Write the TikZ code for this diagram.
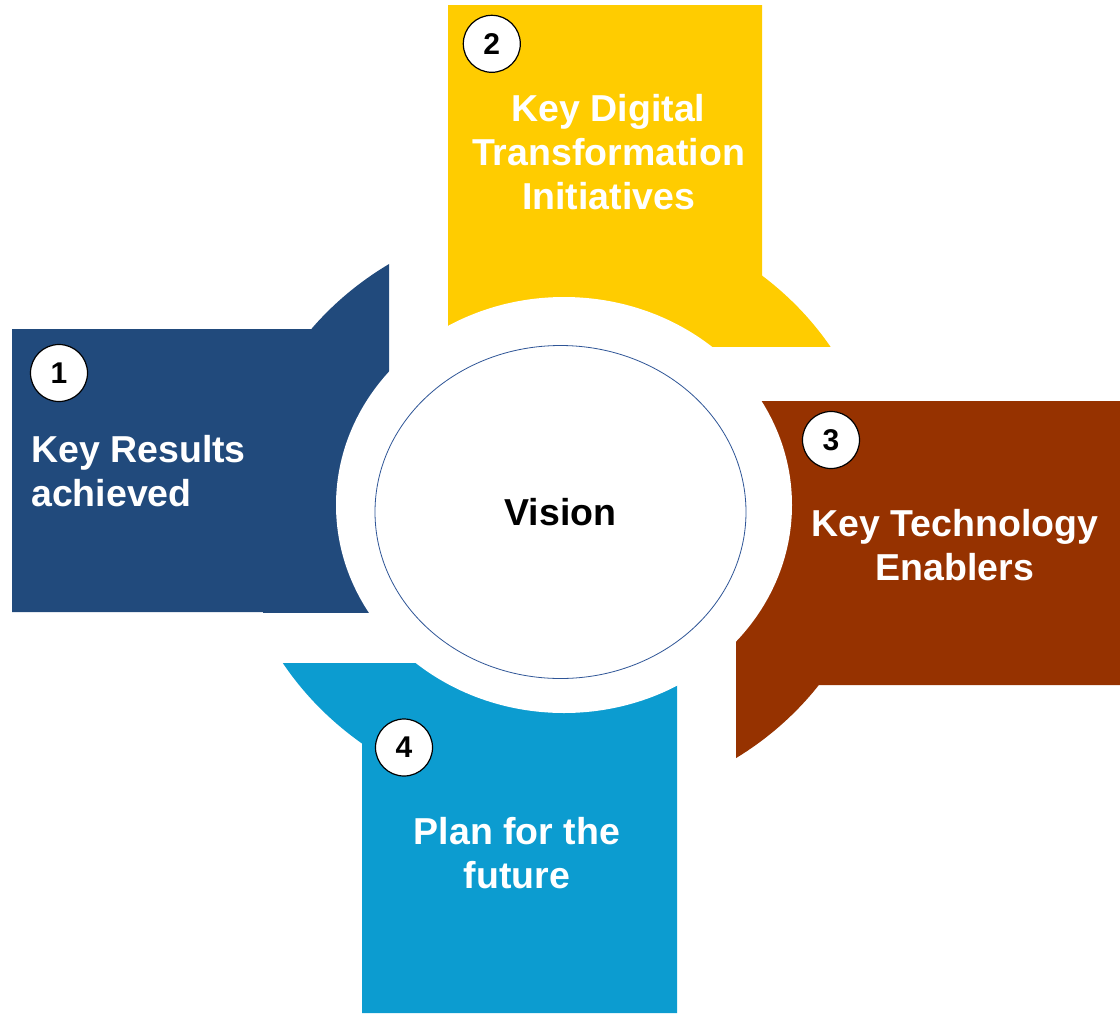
\documentclass[tikz,border=0pt]{standalone}
\usepackage{fontspec}
\setmainfont{Liberation Sans}
\usepackage{tikz}
\usetikzlibrary{shapes.geometric}
\definecolor{resultblue}{HTML}{214A7C}
\definecolor{digitalyellow}{HTML}{FFCC00}
\definecolor{techbrown}{HTML}{963200}
\definecolor{planblue}{HTML}{0C9CD0}
\definecolor{visionline}{HTML}{2F5597}

\begin{document}
\begin{tikzpicture}[
    x=1pt, y=-1pt,
    numcirc/.style={circle, draw=black, line width=1.2pt, fill=white, minimum size=57pt, inner sep=0pt, font=\fontsize{30}{30}\selectfont\bfseries},
    blocktext/.style={text=white, inner sep=0pt, font=\fontsize{37.5}{44}\selectfont\bfseries}
]
    \useasboundingbox (0,0) rectangle (1120,1013);

    % four blocks: rectangle plus a piece of the ring, one path each
    \begin{scope}
        \clip (0,0) rectangle (389,612);
        \fill[resultblue] (389,329) rectangle (12,612) (563,510) ellipse (320 and 293);
    \end{scope}
    \begin{scope}
        \clip (448,0) rectangle (1120,346);
        \fill[digitalyellow] (762,5) rectangle (448,346) (563,508) ellipse (318 and 298);
    \end{scope}
    \begin{scope}
        \clip (736,401) rectangle (1120,1013);
        \fill[techbrown] (1120,401) rectangle (736,685) (563,508) ellipse (318 and 298);
    \end{scope}
    \begin{scope}
        \clip (0,663) rectangle (677,1013);
        \fill[planblue] (677,663) rectangle (362,1013) (563,508) ellipse (328 and 298);
    \end{scope}

    % hole in the middle
    \fill[white] (564,505) ellipse (228 and 208);

    \node[ellipse, draw=visionline, line width=0.8pt, minimum width=371pt, minimum height=333pt, inner sep=0pt,
          font=\fontsize{37.5}{44}\selectfont\bfseries] (vision) at (560.5,512) {Vision};

    \node[blocktext, anchor=west, align=left] (results) at (31,470.6) {Key Results\\achieved};
    \node[blocktext, align=center] (digital) at (608.5,152) {Key Digital\\Transformation\\Initiatives};
    \node[blocktext, align=center] (tech) at (955,545.5) {Key Technology\\Enablers};
    \node[blocktext, align=center] (plan) at (517,853.5) {Plan for the\\future};

    \node[numcirc] (n1) at (59,373) {1};
    \node[numcirc] (n2) at (491.8,43.8) {2};
    \node[numcirc] (n3) at (831,440) {3};
    \node[numcirc] (n4) at (404,747.5) {4};
\end{tikzpicture}
\end{document}
